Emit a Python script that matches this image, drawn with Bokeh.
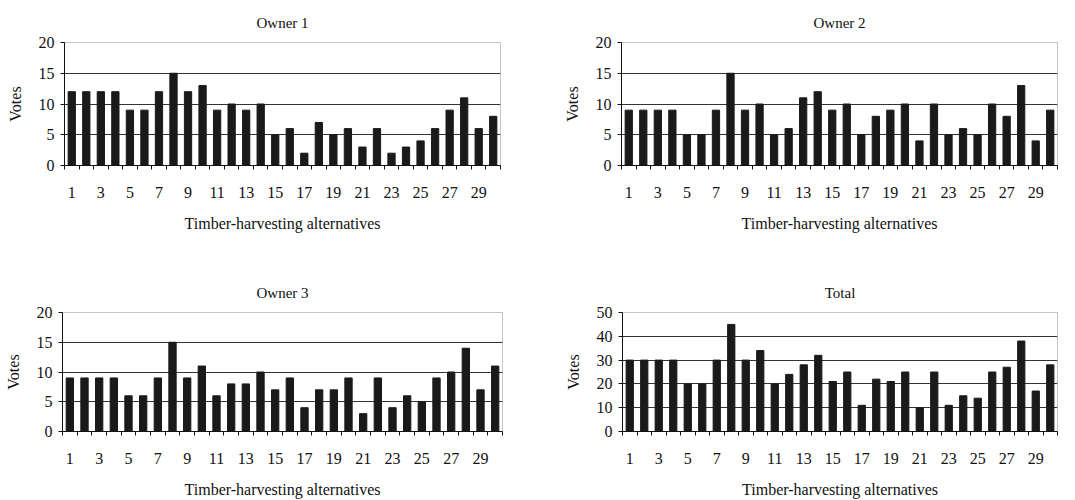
from bokeh.plotting import figure
from bokeh.layouts import column, row
from bokeh.models import Range1d, FixedTicker
from bokeh.embed import file_html
from bokeh.resources import INLINE

alternatives = list(range(1, 31))
owner1 = [12, 12, 12, 12, 9, 9, 12, 15, 12, 13, 9, 10, 9, 10, 5, 6, 2, 7, 5, 6, 3, 6, 2, 3, 4, 6, 9, 11, 6, 8]
owner2 = [9, 9, 9, 9, 5, 5, 9, 15, 9, 10, 5, 6, 11, 12, 9, 10, 5, 8, 9, 10, 4, 10, 5, 6, 5, 10, 8, 13, 4, 9]
owner3 = [9, 9, 9, 9, 6, 6, 9, 15, 9, 11, 6, 8, 8, 10, 7, 9, 4, 7, 7, 9, 3, 9, 4, 6, 5, 9, 10, 14, 7, 11]
total = [30, 30, 30, 30, 20, 20, 30, 45, 30, 34, 20, 24, 28, 32, 21, 25, 11, 22, 21, 25, 10, 25, 11, 15, 14, 25, 27, 38, 17, 28]
x_tick_labels = [1, 3, 5, 7, 9, 11, 13, 15, 17, 19, 21, 23, 25, 27, 29]
x_axis_title = "Timber-harvesting alternatives"
y_axis_title = "Votes"

FONT = "Liberation Serif"


def panel(title, values, ymax, ystep, width, height, bl, br, bt, bb, tstand):
    p = figure(width=width, height=height, output_backend="svg", toolbar_location=None,
               x_range=Range1d(0.5, 30.5), y_range=Range1d(0, ymax),
               min_border_left=bl, min_border_right=br, min_border_top=bt, min_border_bottom=bb)
    p.vbar(x=alternatives, top=values, width=0.5, color="#1a1a1a")
    p.title.text = title
    p.title.align = "center"
    p.title.text_font = FONT
    p.title.text_font_size = "15px"
    p.title.text_font_style = "normal"
    p.title.text_color = "#111111"
    p.title.standoff = tstand

    p.xaxis.ticker = FixedTicker(ticks=x_tick_labels,
                                 minor_ticks=[i + 0.5 for i in range(0, 31)])
    p.xaxis.major_tick_line_color = None
    p.xaxis.minor_tick_in = 0
    p.xaxis.minor_tick_out = 4
    p.xaxis.minor_tick_line_color = "#111111"
    p.xaxis.axis_line_color = "#111111"
    p.xaxis.major_label_standoff = 15
    p.xaxis.axis_label = x_axis_title
    p.xaxis.axis_label_standoff = 14

    yt = list(range(0, ymax + 1, ystep))
    p.yaxis.ticker = FixedTicker(ticks=yt, minor_ticks=[])
    p.yaxis.major_tick_in = 0
    p.yaxis.major_tick_out = 4
    p.yaxis.major_tick_line_color = "#111111"
    p.yaxis.axis_line_color = "#111111"
    p.yaxis.axis_label = y_axis_title
    p.yaxis.axis_label_standoff = 12
    p.yaxis.major_label_standoff = 6

    for ax in (p.xaxis, p.yaxis):
        ax.major_label_text_font = FONT
        ax.major_label_text_font_size = "16px"
        ax.major_label_text_color = "#111111"
        ax.axis_label_text_font = FONT
        ax.axis_label_text_font_size = "16px"
        ax.axis_label_text_font_style = "normal"
        ax.axis_label_text_color = "#111111"

    p.xgrid.visible = False
    p.ygrid.ticker = FixedTicker(ticks=yt[1:-1])
    p.ygrid.grid_line_color = "#333333"
    p.ygrid.grid_line_width = 1

    p.outline_line_color = "#888888"
    p.outline_line_dash = "1 1"
    p.outline_line_width = 1
    p.background_fill_color = "white"
    p.border_fill_color = "white"
    return p


p1 = panel("Owner 1", owner1, 20, 5, 538, 250, 64, 38, 40, 85, 24)
p2 = panel("Owner 2", owner2, 20, 5, 537, 250, 83, 18, 41, 84, 24)
p3 = panel("Owner 3", owner3, 20, 5, 538, 250, 62, 36, 62, 67, 24)
p4 = panel("Total", total, 50, 10, 537, 250, 84, 18, 61, 66, 24)

layout = column(row(p1, p2), row(p3, p4))
open("out.html", "w").write(file_html(layout, INLINE))
